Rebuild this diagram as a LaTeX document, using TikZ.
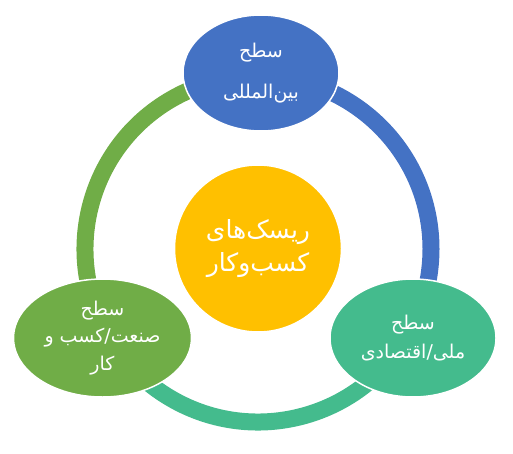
\documentclass[tikz,border=0pt]{standalone}
\usepackage{fontspec}
\newfontfamily\arabicfont[Script=Arabic]{DejaVu Sans}
\TeXXeTstate=1
\usetikzlibrary{shapes.geometric}
\definecolor{cblue}{HTML}{4472C4}
\definecolor{cteal}{HTML}{44BB8D}
\definecolor{cgreen}{HTML}{70AD47}
\definecolor{cyellow}{HTML}{FFC000}
\tikzset{
  ringarc/.style={line width=17pt},
  level/.style={ellipse, draw=white, line width=1.5pt, inner sep=0pt, text=white, align=center},
  core/.style={circle, draw=white, line width=1.5pt, fill=cyellow, inner sep=0pt, minimum size=167pt, text=white, align=center}
}
\begin{document}
\begin{tikzpicture}[x=1pt,y=1pt]
\useasboundingbox (0,0) rectangle (513,453);
\coordinate (o) at (258,204);
\draw[ringarc, cblue] (o) ++(90:173) arc[start angle=90, end angle=-30, radius=173];
\draw[ringarc, cteal] (o) ++(-30:173) arc[start angle=-30, end angle=-150, radius=173];
\draw[ringarc, cgreen] (o) ++(210:173) arc[start angle=210, end angle=90, radius=173];
\node[core, font=\arabicfont\fontsize{25}{33}\selectfont] (c) at (258,204.5)
  {\beginR ریسک‌های\endR\\ \beginR کسب‌وکار\endR};
\node[level, fill=cblue, minimum width=156pt, minimum height=116pt, font=\arabicfont\fontsize{19}{41}\selectfont] (top) at (261,380)
  {\beginR سطح\endR\\ \beginR بین‌المللی\endR};
\node[level, fill=cteal, minimum width=166pt, minimum height=118pt, font=\arabicfont\fontsize{19}{29}\selectfont] (right) at (413,115)
  {\beginR سطح\endR\\ \beginR ملی/اقتصادی\endR};
\node[level, fill=cgreen, minimum width=178pt, minimum height=118pt, font=\arabicfont\fontsize{19}{27.5}\selectfont] (left) at (102.5,115)
  {\beginR سطح\endR\\ \beginR صنعت/کسب و\endR\\ \beginR کار\endR};
\end{tikzpicture}
\end{document}
